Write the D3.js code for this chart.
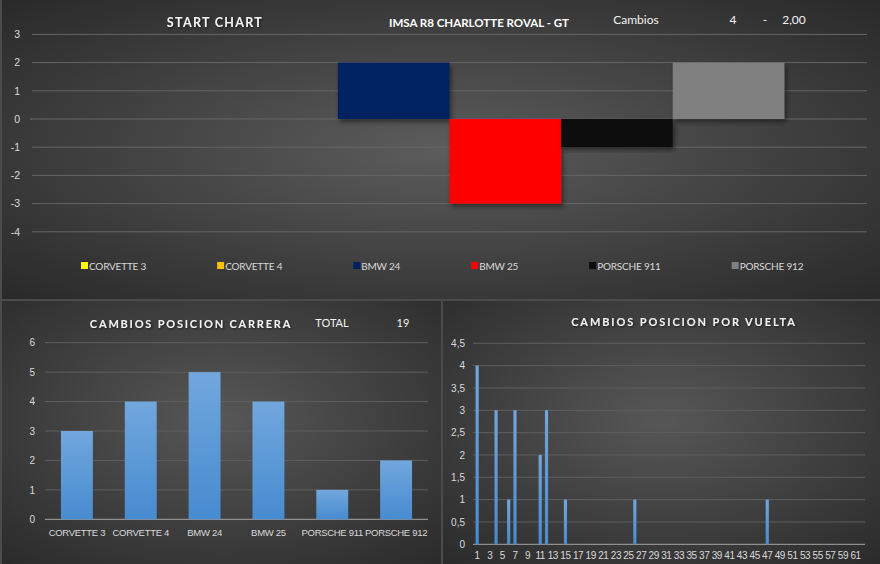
<!DOCTYPE html>
<html>
<head>
<meta charset="utf-8">
<script src="https://cdn.jsdelivr.net/npm/d3@7"></script>
<style>
  body { margin: 0; background: #4b4b4b; }
  svg { display: block; font-family: Lato, "Open Sans", sans-serif; }
  .ylab text, .xlab text { fill: #d9d9d9; }
  .domain { display: none; }
</style>
</head>
<body>
<div class="mainviz"></div>
<script>
// ---- data ----
var cars = ["CORVETTE 3", "CORVETTE 4", "BMW 24", "BMW 25", "PORSCHE 911", "PORSCHE 912"];
var carColors = ["#ffff00", "#ffc000", "#002060", "#ff0000", "#0d0d0d", "#808080"];
var startChange = [0, 0, 2, -3, -1, 2];
var startTicks = [3, 2, 1, 0, -1, -2, -3, -4];

var raceChanges = [3, 4, 5, 4, 1, 2];
var raceTicks = [0, 1, 2, 3, 4, 5, 6];

var laps = [1, 2, 3, 4, 5, 6, 7, 8, 9, 10, 11, 12, 13, 14, 15, 16, 17, 18, 19, 20,
  21, 22, 23, 24, 25, 26, 27, 28, 29, 30, 31, 32, 33, 34, 35, 36, 37, 38, 39, 40,
  41, 42, 43, 44, 45, 46, 47, 48, 49, 50, 51, 52, 53, 54, 55, 56, 57, 58, 59, 60, 61, 62];
var lapChanges = [4, 0, 0, 3, 0, 1, 3, 0, 0, 0, 2, 3, 0, 0, 1, 0, 0, 0, 0, 0,
  0, 0, 0, 0, 0, 1, 0, 0, 0, 0, 0, 0, 0, 0, 0, 0, 0, 0, 0, 0,
  0, 0, 0, 0, 0, 0, 1, 0, 0, 0, 0, 0, 0, 0, 0, 0, 0, 0, 0, 0, 0, 0];
var lapTicks = [0, 0.5, 1, 1.5, 2, 2.5, 3, 3.5, 4, 4.5];

var headerTitle = "IMSA R8 CHARLOTTE ROVAL - GT";
var headerInfo = ["Cambios", "4", "-", "2,00"];
var totalLabel = "TOTAL";
var totalValue = 19;

// ---- svg ----
var width = 880, height = 564;
var svg = d3.select(".mainviz").append("svg")
  .attr("width", width)
  .attr("height", height);

var defs = svg.append("defs");

function radial(id, cx, cy, r, inner, outer) {
  var g = defs.append("radialGradient").attr("id", id)
    .attr("cx", cx).attr("cy", cy).attr("r", r);
  g.append("stop").attr("offset", "0").attr("stop-color", inner);
  g.append("stop").attr("offset", "1").attr("stop-color", outer);
}
radial("bgTop", 0.5, 0.5, 0.72, "#5c5c5c", "#282828");
radial("bgLeft", 0.5, 0.45, 0.75, "#575757", "#2a2a2a");
radial("bgRight", 0.5, 0.45, 0.75, "#575757", "#2a2a2a");

var barGrad = defs.append("linearGradient").attr("id", "barBlue")
  .attr("x1", 0).attr("y1", 0).attr("x2", 0).attr("y2", 1);
barGrad.append("stop").attr("offset", "0").attr("stop-color", "#71a7dd");
barGrad.append("stop").attr("offset", "1").attr("stop-color", "#478bd0");

var shadow = defs.append("filter").attr("id", "shadow")
  .attr("x", "-10%").attr("y", "-10%").attr("width", "130%").attr("height", "130%");
shadow.append("feDropShadow").attr("dx", 2).attr("dy", 3).attr("stdDeviation", 2.5)
  .attr("flood-color", "#000").attr("flood-opacity", 0.45);

var titleShadow = defs.append("filter").attr("id", "tshadow");
titleShadow.append("feDropShadow").attr("dx", 1).attr("dy", 1).attr("stdDeviation", 1)
  .attr("flood-color", "#000").attr("flood-opacity", 0.6);

// panels
svg.append("rect").attr("x", 2).attr("y", 0).attr("width", 878).attr("height", 299).attr("fill", "url(#bgTop)");
svg.append("rect").attr("x", 2).attr("y", 301).attr("width", 439).attr("height", 263).attr("fill", "url(#bgLeft)");
svg.append("rect").attr("x", 443).attr("y", 301).attr("width", 437).attr("height", 263).attr("fill", "url(#bgRight)");

function gridlines(g, ticks, y, x0, x1, color) {
  g.selectAll("line.grid").data(ticks).enter().append("line")
    .attr("class", "grid")
    .attr("x1", x0).attr("x2", x1)
    .attr("y1", function(d) { return y(d); })
    .attr("y2", function(d) { return y(d); })
    .attr("stroke", color).attr("stroke-width", 1);
}

// excel style numbers: no trailing zeros, decimal comma
var fmt = function(d) { return String(d).replace(".", ","); };

// ---------- START CHART ----------
var topG = svg.append("g");
var xTop = d3.scaleBand().domain(cars).range([32, 867]).paddingInner(0).paddingOuter(0.74);
var yTop = d3.scaleLinear().domain([-4, 3]).range([231.8, 34.4]);

gridlines(topG, startTicks, yTop, 32, 867, "#666666");
topG.append("line").attr("x1", 30).attr("x2", 32).attr("y1", yTop(0)).attr("y2", yTop(0)).attr("stroke", "#777");

topG.append("g").attr("class", "ylab")
  .attr("transform", "translate(32,0)")
  .call(d3.axisLeft(yTop).tickValues(startTicks).tickSize(0).tickPadding(12).tickFormat(fmt))
  .selectAll("text").attr("font-size", 10.5);

topG.selectAll("rect.start")
  .data(startChange)
  .enter().append("rect")
  .attr("class", "start")
  .attr("x", function(d, i) { return xTop(cars[i]); })
  .attr("width", xTop.bandwidth())
  .attr("y", function(d) { return yTop(Math.max(0, d)); })
  .attr("height", function(d) { return Math.abs(yTop(d) - yTop(0)); })
  .attr("fill", function(d, i) { return carColors[i]; })
  .attr("filter", "url(#shadow)");

topG.append("text").attr("x", 215).attr("y", 27).attr("text-anchor", "middle")
  .attr("fill", "#f2f2f2").attr("font-size", 12.5).attr("font-weight", "bold")
  .attr("letter-spacing", 1.3).attr("filter", "url(#tshadow)").text("START CHART");
topG.append("text").attr("x", 479).attr("y", 27).attr("text-anchor", "middle")
  .attr("fill", "#ffffff").attr("font-size", 11.5).attr("font-weight", "bold")
  .attr("textLength", 180).attr("lengthAdjust", "spacingAndGlyphs").text(headerTitle);
var infoX = [636, 733, 765, 794];
topG.selectAll("text.info").data(headerInfo).enter().append("text")
  .attr("class", "info")
  .attr("x", function(d, i) { return infoX[i]; })
  .attr("y", 24).attr("text-anchor", "middle")
  .attr("fill", "#f2f2f2").attr("font-size", 12)
  .text(function(d) { return d; });

// legend
var legend = topG.append("g").attr("transform", "translate(81,262)");
var lx = 0;
cars.forEach(function(c, i) {
  var item = legend.append("g").attr("transform", "translate(" + lx + ",0)");
  item.append("rect").attr("width", 7).attr("height", 7).attr("fill", carColors[i]);
  var t = item.append("text").attr("x", 8).attr("y", 7.5)
    .attr("fill", "#d9d9d9").attr("font-size", 10).attr("letter-spacing", -0.2).text(c);
  lx += 8 + t.node().getComputedTextLength() + 71;
});

// ---------- CAMBIOS POSICION CARRERA ----------
var leftG = svg.append("g");
var xL = d3.scaleBand().domain(cars).range([45, 428]).paddingInner(0.5).paddingOuter(0.25);
var yL = d3.scaleLinear().domain([0, 6]).range([519.3, 342.7]);

gridlines(leftG, raceTicks.slice(1), yL, 45, 428, "#5e5e5e");
leftG.append("line").attr("x1", 45).attr("x2", 428).attr("y1", yL(0)).attr("y2", yL(0))
  .attr("stroke", "#a6a6a6");

leftG.append("g").attr("class", "ylab")
  .attr("transform", "translate(45,0)")
  .call(d3.axisLeft(yL).tickValues(raceTicks).tickSize(0).tickPadding(10).tickFormat(fmt))
  .selectAll("text").attr("font-size", 10);

leftG.append("g").attr("class", "xlab")
  .attr("transform", "translate(0," + yL(0) + ")")
  .call(d3.axisBottom(xL).tickSize(0).tickPadding(10))
  .selectAll("text").attr("font-size", 9.5).attr("letter-spacing", -0.3);

leftG.selectAll("rect.race")
  .data(raceChanges)
  .enter().append("rect")
  .attr("class", "race")
  .attr("x", function(d, i) { return xL(cars[i]); })
  .attr("width", xL.bandwidth())
  .attr("y", function(d) { return yL(d); })
  .attr("height", function(d) { return yL(0) - yL(d); })
  .attr("fill", "url(#barBlue)");

leftG.append("text").attr("x", 191).attr("y", 328).attr("text-anchor", "middle")
  .attr("fill", "#f2f2f2").attr("font-size", 11).attr("font-weight", "bold")
  .attr("letter-spacing", 1.8).attr("filter", "url(#tshadow)").text("CAMBIOS POSICION CARRERA");
leftG.append("text").attr("x", 332).attr("y", 327).attr("text-anchor", "middle")
  .attr("fill", "#f2f2f2").attr("font-size", 11).text(totalLabel);
leftG.append("text").attr("x", 403).attr("y", 327).attr("text-anchor", "middle")
  .attr("fill", "#f2f2f2").attr("font-size", 11).text(totalValue);

// ---------- CAMBIOS POSICION POR VUELTA ----------
var rightG = svg.append("g");
var xR = d3.scaleBand().domain(laps).range([474, 865]).paddingInner(0.5).paddingOuter(0.25);
var yR = d3.scaleLinear().domain([0, 4.5]).range([544.3, 343.3]);

gridlines(rightG, lapTicks.slice(1), yR, 473, 865, "#5e5e5e");
rightG.append("line").attr("x1", 473).attr("x2", 865).attr("y1", yR(0)).attr("y2", yR(0))
  .attr("stroke", "#a6a6a6");

rightG.append("g").attr("class", "ylab")
  .attr("transform", "translate(474,0)")
  .call(d3.axisLeft(yR).tickValues(lapTicks).tickSize(0).tickPadding(9).tickFormat(fmt))
  .selectAll("text").attr("font-size", 10);

rightG.append("g").attr("class", "xlab")
  .attr("transform", "translate(0," + yR(0) + ")")
  .call(d3.axisBottom(xR).tickValues(laps.filter(function(d) { return d % 2 === 1; }))
    .tickSize(0).tickPadding(8))
  .selectAll("text").attr("font-size", 10).attr("letter-spacing", -0.4);

rightG.selectAll("rect.lap")
  .data(lapChanges)
  .enter().append("rect")
  .attr("class", "lap")
  .attr("x", function(d, i) { return xR(laps[i]); })
  .attr("width", xR.bandwidth())
  .attr("y", function(d) { return yR(d); })
  .attr("height", function(d) { return yR(0) - yR(d); })
  .attr("fill", "url(#barBlue)");

rightG.append("text").attr("x", 684).attr("y", 326).attr("text-anchor", "middle")
  .attr("fill", "#f2f2f2").attr("font-size", 11).attr("font-weight", "bold")
  .attr("letter-spacing", 1.9).attr("filter", "url(#tshadow)").text("CAMBIOS POSICION POR VUELTA");
</script>
</body>
</html>
